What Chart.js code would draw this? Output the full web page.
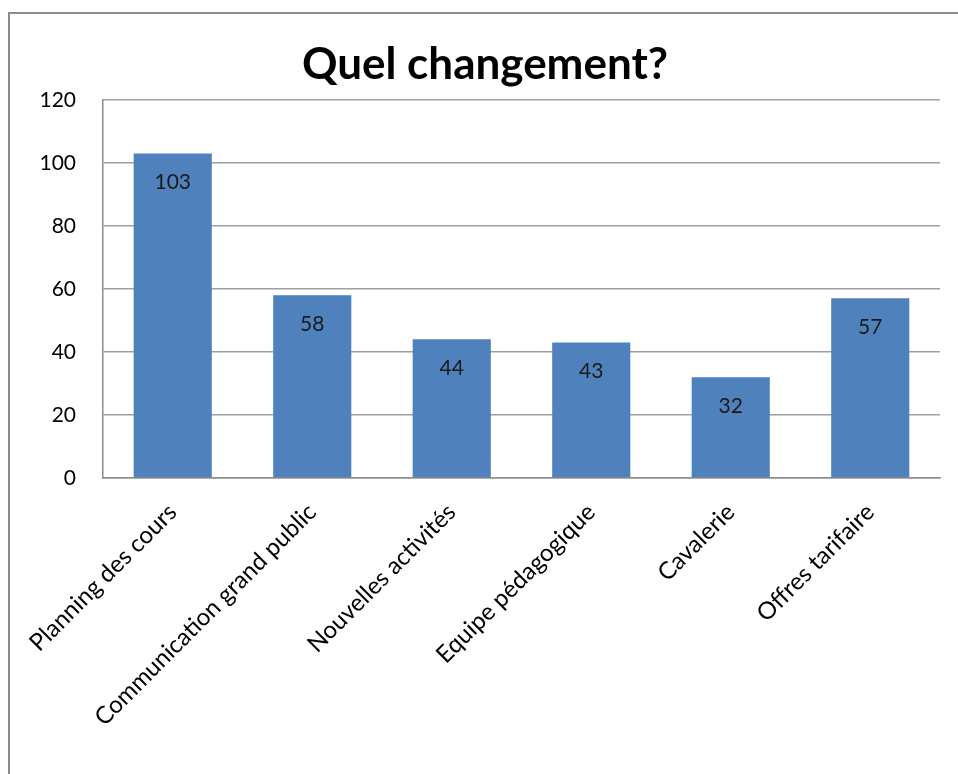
<!DOCTYPE html>
<html>
<head>
<meta charset="utf-8">
<script src="https://cdn.jsdelivr.net/npm/chart.js@4"></script>
<style>
    body { margin: 0; background: #fff; overflow: hidden; }
    #frame { position: absolute; left: 8px; top: 12px; width: 960px; height: 800px; border: 2px solid #8c8c8c; box-sizing: border-box; }
    #wrap { position: absolute; left: 0; top: 0; width: 958px; height: 774px; }
</style>
</head>
<body>
<div id="frame"></div>
<div id="wrap"><canvas id="changeChart"></canvas></div>
<script>
var categories = ['Planning des cours', 'Communication grand public', 'Nouvelles activités', 'Equipe pédagogique', 'Cavalerie', 'Offres tarifaire'];
var counts = [103, 58, 44, 43, 32, 57];
var yTicks = [0, 20, 40, 60, 80, 100, 120];

// labels written inside the top of each bar
var valueLabels = {
    id: 'valueLabels',
    afterDatasetsDraw: function(chart) {
        var ctx = chart.ctx;
        var meta = chart.getDatasetMeta(0);
        ctx.save();
        ctx.font = '21px Lato';
        ctx.fillStyle = '#1a1a1a';
        ctx.textAlign = 'center';
        ctx.textBaseline = 'middle';
        meta.data.forEach(function(bar, i) {
            ctx.fillText(counts[i], bar.x, bar.y + 29);
        });
        ctx.restore();
    }
};

var ctx = document.getElementById('changeChart').getContext('2d');
var changeChart = new Chart(ctx, {
    type: 'bar',
    data: {
        labels: categories,
        datasets: [{
            data: counts,
            backgroundColor: '#4f81bd',
            borderWidth: 0,
            barPercentage: 0.56,
            categoryPercentage: 1
        }]
    },
    options: {
        responsive: true,
        maintainAspectRatio: false,
        animation: false,
        layout: {
            padding: { left: 30, right: 18, top: 7, bottom: 0 }
        },
        scales: {
            x: {
                grid: {
                    display: false,
                    drawTicks: false
                },
                border: { color: '#8c8c8c', width: 1.5 },
                ticks: {
                    color: '#000',
                    font: { family: 'Lato', size: 24 },
                    minRotation: 45,
                    maxRotation: 45,
                    padding: 20,
                    autoSkip: false
                },
                afterFit: function(scale) { scale.height = 296; }
            },
            y: {
                min: 0,
                max: 120,
                afterBuildTicks: function(scale) {
                    scale.ticks = yTicks.map(function(v) { return { value: v }; });
                },
                grid: {
                    color: '#a0a0a0',
                    lineWidth: 1.5,
                    drawTicks: false
                },
                border: { color: '#8c8c8c', width: 1.5 },
                ticks: {
                    color: '#000',
                    font: { family: 'Lato', size: 21 },
                    padding: 27
                },
                afterFit: function(scale) { scale.width = 73; }
            }
        },
        plugins: {
            legend: {
                display: false
            },
            tooltip: {
                enabled: false
            },
            title: {
                display: true,
                text: 'Quel changement?',
                color: '#000',
                font: { family: 'Lato', size: 44, weight: 'bold', lineHeight: 1.2 },
                padding: { top: 31, bottom: 9 }
            }
        }
    },
    plugins: [valueLabels]
});
</script>
</body>
</html>
